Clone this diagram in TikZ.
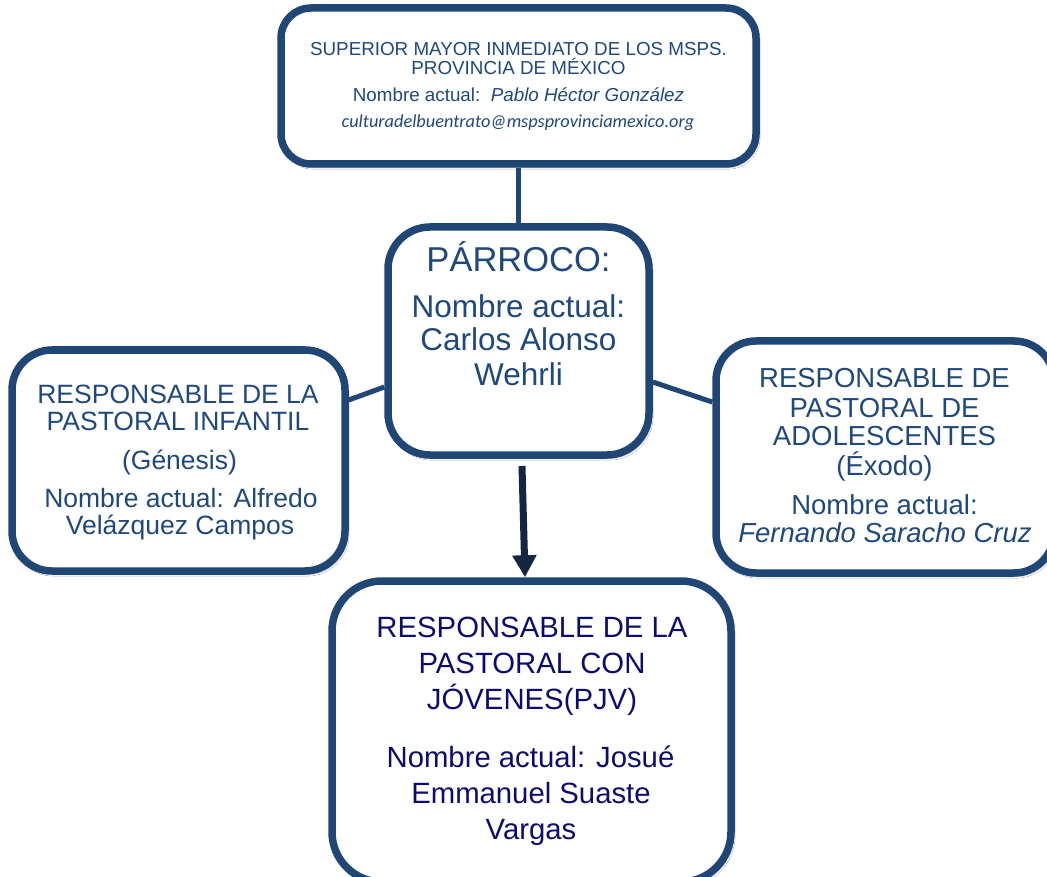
\documentclass[tikz,border=0pt]{standalone}
\usepackage{fontspec}
\setmainfont{Liberation Sans}
\newfontfamily\calib{Carlito}
\usetikzlibrary{arrows.meta,shadows.blur,calc}
\definecolor{bord}{RGB}{32,70,118}
\definecolor{txt}{RGB}{31,73,125}
\definecolor{navytxt}{RGB}{12,12,112}
\definecolor{arr}{RGB}{20,38,64}
\begin{document}
\begin{tikzpicture}[x=1pt,y=-1pt,
  box/.style={draw=bord, line width=7.5pt, fill=white, rounded corners=#1,
    blur shadow={shadow xshift=2pt,shadow yshift=-3pt,shadow opacity=35,shadow blur steps=6},
    inner sep=0pt},
  box/.default=40pt,
  link/.style={draw=bord, line width=5pt},
  arrowst/.style={draw=arr, line width=7pt, -{Triangle[width=23pt,length=22pt]}},
  tl/.style={anchor=base, inner sep=0pt, text=txt},
  nl/.style={anchor=base, inner sep=0pt, text=navytxt, font=\fontsize{29.3}{32}\selectfont}]
\clip (0,0) rectangle (1047,877);
\fill[white] (0,0) rectangle (1047,877);
% boxes
\node[box=30pt, minimum width=475pt, minimum height=156pt] (top) at (518.5,86) {};
\node[box=42pt, minimum width=261pt, minimum height=228pt] (par) at (518.5,341) {};
\node[box=40pt, minimum width=333pt, minimum height=221pt] (left) at (178.5,460.5) {};
\node[box=40pt, minimum width=338pt, minimum height=232pt] (right) at (885,457) {};
\node[box=50pt, minimum width=399pt, minimum height=301pt] (bot) at (531.5,731.5) {};
% connectors
\draw[link] (top.south) -- (par.north);
\draw[link] ([yshift=60.5pt]left.east) -- ([yshift=-46pt]par.west);
\draw[link] ([yshift=-41pt]par.east) -- ([yshift=55pt]right.west);
\draw[arrowst] ([xshift=3.5pt,yshift=-7.25pt]par.south) -- ([xshift=-6.5pt]bot.north);
% top texts
\begin{scope}[every node/.append style={font=\fontsize{18.8}{20}\selectfont}]
\node[tl] (t1) at (518.5,56) {SUPERIOR MAYOR INMEDIATO DE LOS MSPS.};
\node[tl] (t2) at (518.5,75) {PROVINCIA DE MÉXICO};
\node[tl] (t3) at (518.5,102) {Nombre actual:\ \ \textit{Pablo Héctor González}};
\end{scope}
\node[tl, font=\fontsize{18.3}{20}\selectfont\calib\itshape] (t4) at (518,128) {culturadelbuentrato@mspsprovinciamexico.org};
% parroco
\node[tl, font=\fontsize{34.5}{36}\selectfont] (p1) at (518.5,272) {PÁRROCO:};
\begin{scope}[every node/.append style={font=\fontsize{31.5}{34}\selectfont}]
\node[tl] (p2) at (518.5,318) {Nombre actual:};
\node[tl] (p3) at (518.5,351) {Carlos Alonso};
\node[tl] (p4) at (518.5,385) {Wehrli};
\end{scope}
% left
\begin{scope}[every node/.append style={font=\fontsize{26.5}{28}\selectfont}]
\node[tl] (l1) at (178,403) {RESPONSABLE DE LA};
\node[tl] (l2) at (178,430) {PASTORAL INFANTIL};
\node[tl] (l3) at (179.5,469) {(Génesis)};
\node[tl] (l4) at (181,507) {Nombre actual: Alfredo};
\node[tl] (l5) at (180,534) {Velázquez Campos};
\end{scope}
% right
\begin{scope}[every node/.append style={font=\fontsize{27.5}{29}\selectfont}]
\node[tl] (r1) at (884.5,388) {RESPONSABLE DE};
\node[tl] (r2) at (884.5,417) {PASTORAL DE};
\node[tl] (r3) at (884.5,445) {ADOLESCENTES};
\node[tl] (r4) at (884.5,475) {(Éxodo)};
\node[tl] (r5) at (884.5,514) {Nombre actual:};
\node[tl] (r6) at (885,542) {\textit{Fernando Saracho Cruz}};
\end{scope}
% bottom
\node[nl] (b1) at (532,637) {RESPONSABLE DE LA};
\node[nl] (b2) at (532,673) {PASTORAL CON};
\node[nl] (b3) at (532,709) {JÓVENES(PJV)};
\node[nl] (b4) at (530.5,767) {Nombre actual: Josué};
\node[nl] (b5) at (531,803) {Emmanuel Suaste};
\node[nl] (b6) at (531,839) {Vargas};
\end{tikzpicture}
\end{document}
